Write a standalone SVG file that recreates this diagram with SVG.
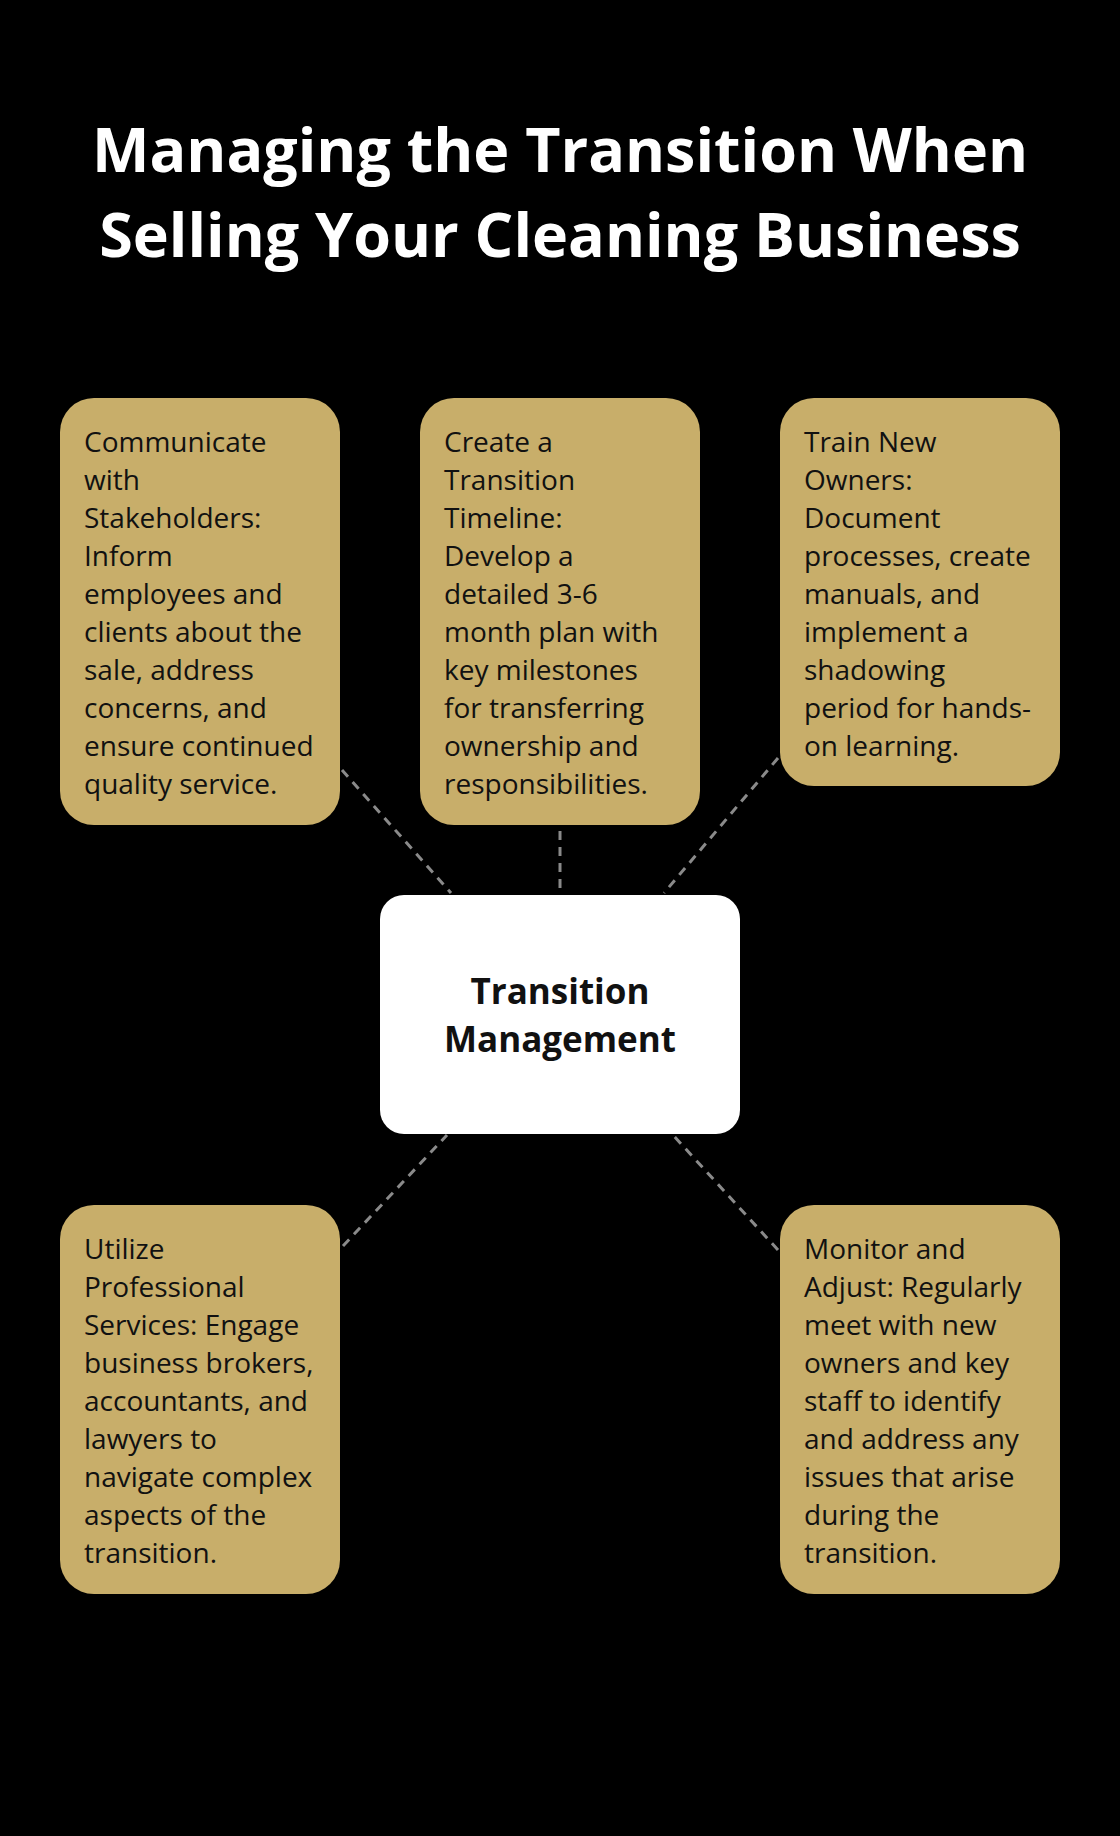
<svg xmlns="http://www.w3.org/2000/svg" width="1120" height="1836" viewBox="0 0 1120 1836">
<style>
.box{fill:#C8AE6A}
.t{font-family:"Open Sans","Noto Sans",sans-serif;font-size:28px;fill:#111}
.title{font-family:"Open Sans","Noto Sans",sans-serif;font-size:61px;font-weight:bold;fill:#fff;text-anchor:middle}
.c{font-family:"Open Sans","Noto Sans",sans-serif;font-size:35px;font-weight:bold;fill:#111;text-anchor:middle}
.ln{stroke:#8a8a8a;stroke-width:3;stroke-dasharray:9 7;fill:none}
</style>
<rect width="1120" height="1836" fill="#000"/>
<text class="title" x="560" y="172">Managing the Transition When</text>
<text class="title" x="560" y="257">Selling Your Cleaning Business</text>
<g id="connectors">
<line class="ln" x1="342" y1="770" x2="451" y2="893"/>
<line class="ln" x1="560" y1="831" x2="560" y2="889"/>
<line class="ln" x1="778" y1="758" x2="664" y2="893"/>
<line class="ln" x1="343" y1="1246" x2="447" y2="1135"/>
<line class="ln" x1="778" y1="1250" x2="673" y2="1135"/>
</g>
<g id="center"><rect x="380" y="895" width="360" height="239" rx="24" fill="#fff"/>
<text class="c" x="560" y="1004">Transition</text><text class="c" x="560" y="1052">Management</text></g>
<g id="n1"><rect class="box" x="60" y="398" width="280" height="427" rx="34"/>
<text class="t" x="84" y="452"><tspan x="84">Communicate</tspan><tspan x="84" dy="38">with</tspan><tspan x="84" dy="38">Stakeholders:</tspan><tspan x="84" dy="38">Inform</tspan><tspan x="84" dy="38">employees and</tspan><tspan x="84" dy="38">clients about the</tspan><tspan x="84" dy="38">sale, address</tspan><tspan x="84" dy="38">concerns, and</tspan><tspan x="84" dy="38">ensure continued</tspan><tspan x="84" dy="38">quality service.</tspan></text></g>
<g id="n2"><rect class="box" x="420" y="398" width="280" height="427" rx="34"/>
<text class="t" x="444" y="452"><tspan x="444">Create a</tspan><tspan x="444" dy="38">Transition</tspan><tspan x="444" dy="38">Timeline:</tspan><tspan x="444" dy="38">Develop a</tspan><tspan x="444" dy="38">detailed 3-6</tspan><tspan x="444" dy="38">month plan with</tspan><tspan x="444" dy="38">key milestones</tspan><tspan x="444" dy="38">for transferring</tspan><tspan x="444" dy="38">ownership and</tspan><tspan x="444" dy="38">responsibilities.</tspan></text></g>
<g id="n3"><rect class="box" x="780" y="398" width="280" height="388" rx="34"/>
<text class="t" x="804" y="452"><tspan x="804">Train New</tspan><tspan x="804" dy="38">Owners:</tspan><tspan x="804" dy="38">Document</tspan><tspan x="804" dy="38">processes, create</tspan><tspan x="804" dy="38">manuals, and</tspan><tspan x="804" dy="38">implement a</tspan><tspan x="804" dy="38">shadowing</tspan><tspan x="804" dy="38">period for hands-</tspan><tspan x="804" dy="38">on learning.</tspan></text></g>
<g id="n4"><rect class="box" x="60" y="1205" width="280" height="389" rx="34"/>
<text class="t" x="84" y="1259"><tspan x="84">Utilize</tspan><tspan x="84" dy="38">Professional</tspan><tspan x="84" dy="38">Services: Engage</tspan><tspan x="84" dy="38">business brokers,</tspan><tspan x="84" dy="38">accountants, and</tspan><tspan x="84" dy="38">lawyers to</tspan><tspan x="84" dy="38">navigate complex</tspan><tspan x="84" dy="38">aspects of the</tspan><tspan x="84" dy="38">transition.</tspan></text></g>
<g id="n5"><rect class="box" x="780" y="1205" width="280" height="389" rx="34"/>
<text class="t" x="804" y="1259"><tspan x="804">Monitor and</tspan><tspan x="804" dy="38">Adjust: Regularly</tspan><tspan x="804" dy="38">meet with new</tspan><tspan x="804" dy="38">owners and key</tspan><tspan x="804" dy="38">staff to identify</tspan><tspan x="804" dy="38">and address any</tspan><tspan x="804" dy="38">issues that arise</tspan><tspan x="804" dy="38">during the</tspan><tspan x="804" dy="38">transition.</tspan></text></g>
</svg>
